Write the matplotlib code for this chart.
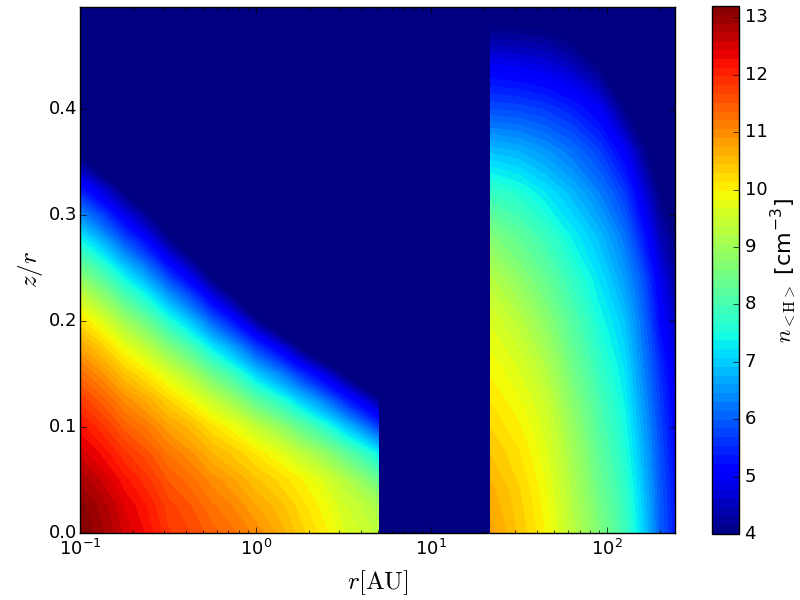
import matplotlib
matplotlib.use("Agg")
import matplotlib.pyplot as plt

# inner disc, log10 n [cm^-3]
inner_r = [0.1, 0.178, 0.316, 0.562, 1.0, 1.78, 3.16, 5.03]
inner_z = [0, .025, .05, .075, .1, .125, .15, .175, .2, .225, .25, .275, .3, .325, .35, .375]
inner_n = [
    [13.2, 12.55, 11.85, 11.42, 11.0, 10.35, 9.7, 9.3],
    [13.12, 12.42, 11.74, 11.24, 10.76, 10.22, 9.55, 9.1],
    [12.86, 12.18, 11.5, 10.98, 10.46, 10.0, 9.25, 8.35],
    [12.52, 11.86, 11.2, 10.6, 10.1, 9.37, 8.35, 7.3],
    [12.18, 11.45, 10.8, 10.17, 9.4, 8.32, 7.0, 5.65],
    [11.77, 11.0, 10.3, 9.44, 8.25, 7.0, 5.5, 4.15],
    [11.29, 10.44, 9.64, 8.43, 7.0, 5.6, 4.0, 2.8],
    [10.76, 9.83, 8.68, 7.25, 5.7, 4.0, 2.5, 2.0],
    [10.17, 9.0, 7.6, 6.0, 4.2, 2.5, 2.0, 2.0],
    [9.36, 8.0, 6.5, 4.75, 2.8, 2.0, 2.0, 2.0],
    [8.44, 7.0, 5.35, 3.5, 2.0, 2.0, 2.0, 2.0],
    [7.43, 5.92, 4.23, 2.5, 2.0, 2.0, 2.0, 2.0],
    [6.4, 4.87, 3.3, 2.0, 2.0, 2.0, 2.0, 2.0],
    [5.32, 3.8, 2.5, 2.0, 2.0, 2.0, 2.0, 2.0],
    [4.18, 2.8, 2.0, 2.0, 2.0, 2.0, 2.0, 2.0],
    [3.05, 2.0, 2.0, 2.0, 2.0, 2.0, 2.0, 2.0],
]

# outer disc
outer_r = [21.6, 31.6, 44.7, 63.1, 89.1, 126, 158, 200, 244]
outer_z = [0, .04, .08, .12, .16, .2, .24, .28, .32, .36, .4, .44, .48, .52]
outer_n = [
    [10.8, 10.4, 9.95, 9.3, 8.65, 7.9, 7.1, 6.0, 5.4],
    [10.65, 10.3, 9.85, 9.17, 8.45, 7.75, 6.97, 5.95, 5.3],
    [10.4, 10.12, 9.68, 9.03, 8.25, 7.55, 6.78, 5.85, 5.15],
    [10.15, 9.88, 9.5, 8.77, 8.05, 7.37, 6.57, 5.7, 5.0],
    [9.9, 9.62, 9.17, 8.46, 7.79, 7.16, 6.37, 5.5, 4.8],
    [9.65, 9.28, 8.78, 8.15, 7.5, 6.91, 6.17, 5.15, 4.55],
    [9.25, 8.8, 8.33, 7.78, 7.21, 6.55, 5.93, 4.9, 4.3],
    [8.65, 8.27, 7.85, 7.33, 6.87, 6.18, 5.4, 4.45, 4.03],
    [7.83, 7.6, 7.23, 6.83, 6.33, 5.67, 4.85, 4.0, 3.6],
    [6.87, 6.75, 6.5, 6.17, 5.73, 5.0, 4.23, 3.5, 3.2],
    [5.83, 5.78, 5.65, 5.4, 5.0, 4.0, 3.5, 3.0, 2.8],
    [4.98, 4.9, 4.77, 4.52, 4.0, 3.2, 3.0, 2.5, 2.5],
    [3.95, 3.9, 3.85, 3.6, 3.1, 2.5, 2.5, 2.0, 2.0],
    [3.0, 3.0, 3.0, 2.8, 2.5, 2.0, 2.0, 2.0, 2.0],
]

cbar_ticks = [4, 5, 6, 7, 8, 9, 10, 11, 12, 13]
y_ticks = [0.0, 0.1, 0.2, 0.3, 0.4]

plt.style.use("classic")
plt.rcParams["mathtext.fontset"] = "cm"
plt.rcParams["font.size"] = 13
plt.rcParams["savefig.facecolor"] = "white"

fig = plt.figure(figsize=(8, 6), dpi=100, facecolor="white")
ax = fig.add_axes([80 / 800, 1 - 533 / 600, 595 / 800, 526 / 600])
ax.set_facecolor(plt.cm.jet(0.0))

# about 60 bands like the original colorbar
levels = [4 + i * 9.2 / 60 for i in range(61)]

ax.contourf(inner_r, inner_z, inner_n, levels=levels, cmap="jet", vmin=4, vmax=13.2)
cf = ax.contourf(outer_r, outer_z, outer_n, levels=levels, cmap="jet", vmin=4, vmax=13.2)

ax.set_xscale("log")
ax.set_xlim(0.1, 244)
ax.set_ylim(0, 0.496)
ax.set_yticks(y_ticks)
ax.tick_params(axis="y", pad=2)
ax.set_xlabel(r"$r[\mathrm{AU}]$", fontsize=18, labelpad=7)
ax.set_ylabel(r"$z/r$", fontsize=18, labelpad=3)

cax = fig.add_axes([712 / 800, 1 - 534 / 600, 27 / 800, 528 / 600])
cb = fig.colorbar(cf, cax=cax, ticks=cbar_ticks)
cb.set_label(r"$n_{<\mathrm{H}>}$ [cm$^{\mathregular{-3}}$]", fontsize=16, labelpad=2)

fig.savefig("out.png", dpi=100)
